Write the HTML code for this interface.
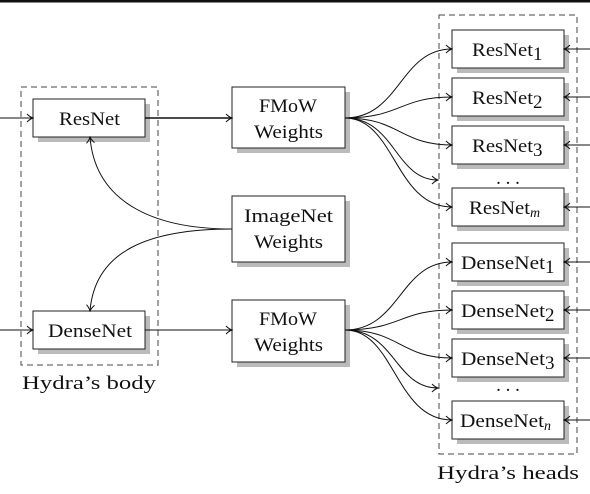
<!DOCTYPE html>
<html><head><style>
body{margin:0;background:#fff}
svg{display:block}
text{font-family:"Liberation Serif",serif;font-size:19px;fill:#111}
</style></head><body>
<svg width="590" height="494" viewBox="0 0 590 494" xmlns="http://www.w3.org/2000/svg">
<defs>
<marker id="a" markerWidth="8" markerHeight="10" refX="7" refY="5" orient="auto" markerUnits="userSpaceOnUse">
<path d="M1,1 Q4,4 7,5 Q4,6 1,9" fill="none" stroke="#111" stroke-width="1"/>
</marker>
</defs>
<rect x="0" y="0" width="590" height="2.5" fill="#111"/>
<rect x="21" y="87" width="137" height="278" fill="none" stroke="#444" stroke-width="1" stroke-dasharray="6,4"/>
<rect x="439" y="15" width="138" height="439" fill="none" stroke="#444" stroke-width="1" stroke-dasharray="6,4"/>
<g fill="#bbb">
<rect x="38" y="104" width="112" height="38"/>
<rect x="38" y="316" width="112" height="38"/>
<rect x="237" y="92" width="113" height="61"/>
<rect x="237" y="201" width="113" height="66"/>
<rect x="237" y="305" width="113" height="62"/>
<rect x="457" y="35" width="112" height="38"/>
<rect x="457" y="83" width="112" height="38"/>
<rect x="457" y="131" width="112" height="38"/>
<rect x="457" y="193" width="112" height="38"/>
<rect x="457" y="248" width="112" height="38"/>
<rect x="457" y="296" width="112" height="38"/>
<rect x="457" y="344" width="112" height="38"/>
<rect x="457" y="406" width="112" height="38"/>
</g>
<g fill="#fff" stroke="#222" stroke-width="1">
<rect x="33" y="99" width="112" height="38"/>
<rect x="33" y="311" width="112" height="38"/>
<rect x="232" y="87" width="113" height="61"/>
<rect x="232" y="196" width="113" height="66"/>
<rect x="232" y="300" width="113" height="62"/>
<rect x="452" y="30" width="112" height="38"/>
<rect x="452" y="78" width="112" height="38"/>
<rect x="452" y="126" width="112" height="38"/>
<rect x="452" y="188" width="112" height="38"/>
<rect x="452" y="243" width="112" height="38"/>
<rect x="452" y="291" width="112" height="38"/>
<rect x="452" y="339" width="112" height="38"/>
<rect x="452" y="401" width="112" height="38"/>
</g>
<g fill="none" stroke="#111" stroke-width="1" marker-end="url(#a)">
<path d="M0,118 H33"/>
<path d="M0,330 H33"/>
<path d="M145,118 H232" stroke-width="1.6"/>
<path d="M145,330 H232"/>
<path d="M232,229 C150,229 95,200 90,137"/>
<path d="M232,229 C150,229 95,250 90,311"/>
<path d="M345,118 C400,118 400,49 452,49"/>
<path d="M345,118 C400,118 400,97 452,97"/>
<path d="M345,118 C400,118 400,145 452,145"/>
<path d="M345,118 C395,118 395,180 438,180"/>
<path d="M345,118 C395,118 395,207 452,207"/>
<path d="M345,330 C400,330 400,262 452,262"/>
<path d="M345,330 C400,330 400,310 452,310"/>
<path d="M345,330 C400,330 400,358 452,358"/>
<path d="M345,330 C395,330 395,388 438,388"/>
<path d="M345,330 C395,330 395,420 452,420"/>
<path d="M590,49 H564"/><path d="M590,97 H564"/><path d="M590,145 H564"/><path d="M590,207 H564"/>
<path d="M590,262 H564"/><path d="M590,310 H564"/><path d="M590,358 H564"/><path d="M590,420 H564"/>
</g>
<g>
<text x="59" y="125" textLength="61" lengthAdjust="spacingAndGlyphs">ResNet</text>
<text x="48" y="337" textLength="84" lengthAdjust="spacingAndGlyphs">DenseNet</text>
<text x="259" y="112" textLength="58" lengthAdjust="spacingAndGlyphs">FMoW</text>
<text x="254" y="138" textLength="69" lengthAdjust="spacingAndGlyphs">Weights</text>
<text x="244" y="222" textLength="89" lengthAdjust="spacingAndGlyphs">ImageNet</text>
<text x="254" y="248" textLength="69" lengthAdjust="spacingAndGlyphs">Weights</text>
<text x="259" y="325" textLength="58" lengthAdjust="spacingAndGlyphs">FMoW</text>
<text x="254" y="351" textLength="69" lengthAdjust="spacingAndGlyphs">Weights</text>
<g font-size="13">
<text x="472" y="56"><tspan font-size="19" textLength="61" lengthAdjust="spacingAndGlyphs">ResNet</tspan><tspan dy="4">1</tspan></text>
<text x="472" y="104"><tspan font-size="19" textLength="61" lengthAdjust="spacingAndGlyphs">ResNet</tspan><tspan dy="4">2</tspan></text>
<text x="472" y="152"><tspan font-size="19" textLength="61" lengthAdjust="spacingAndGlyphs">ResNet</tspan><tspan dy="4">3</tspan></text>
<text x="469" y="214"><tspan font-size="19" textLength="61" lengthAdjust="spacingAndGlyphs">ResNet</tspan><tspan dy="3" font-style="italic" font-size="14">m</tspan></text>
<text x="461" y="269"><tspan font-size="19" textLength="84" lengthAdjust="spacingAndGlyphs">DenseNet</tspan><tspan dy="4">1</tspan></text>
<text x="461" y="317"><tspan font-size="19" textLength="84" lengthAdjust="spacingAndGlyphs">DenseNet</tspan><tspan dy="4">2</tspan></text>
<text x="461" y="365"><tspan font-size="19" textLength="84" lengthAdjust="spacingAndGlyphs">DenseNet</tspan><tspan dy="4">3</tspan></text>
<text x="460" y="427"><tspan font-size="19" textLength="84" lengthAdjust="spacingAndGlyphs">DenseNet</tspan><tspan dy="3" font-style="italic" font-size="14">n</tspan></text>
</g>
<text x="508" y="184" font-size="22" text-anchor="middle">. . .</text>
<text x="508" y="391" font-size="22" text-anchor="middle">. . .</text>
<text x="22" y="389" font-size="23" textLength="134" lengthAdjust="spacingAndGlyphs">Hydra’s body</text>
<text x="437" y="479" font-size="23" textLength="142" lengthAdjust="spacingAndGlyphs">Hydra’s heads</text>
</g>
</svg>
</body></html>
